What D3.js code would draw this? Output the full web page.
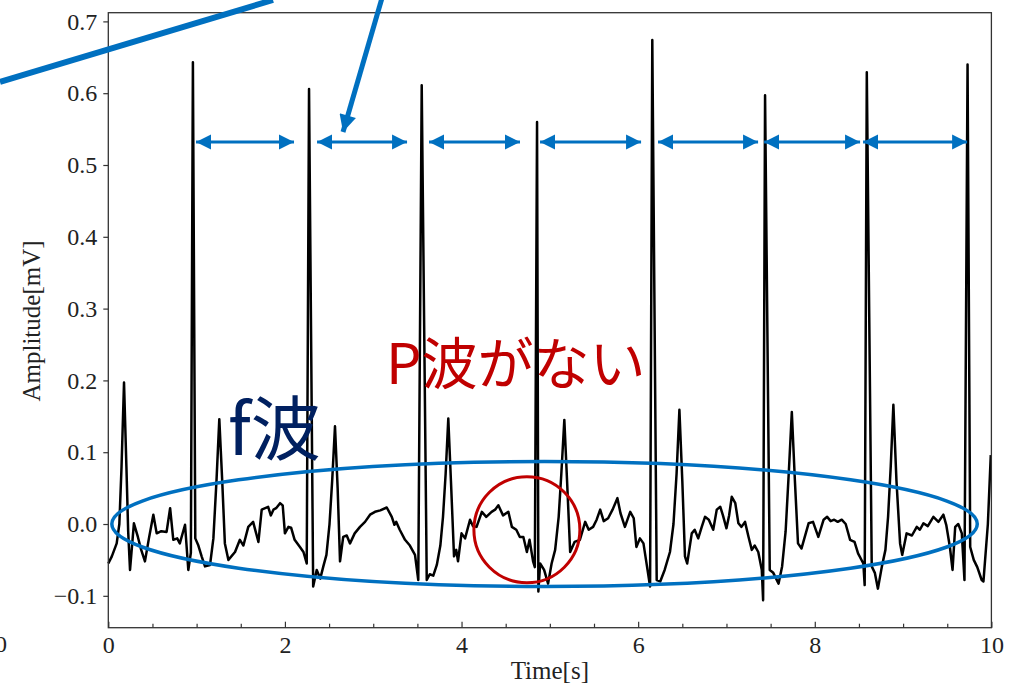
<!DOCTYPE html>
<html>
<head>
<meta charset="utf-8">
<script src="https://cdn.jsdelivr.net/npm/d3@7"></script>
<style>
  html, body { margin: 0; padding: 0; background: #fff; }
  svg { display: block; }
</style>
</head>
<body>
<svg id="chart" width="1020" height="683"></svg>
<script>
// ECG trace (time in s, amplitude in mV)
const ecgTime = [
  0.000, 0.040, 0.095, 0.125, 0.150, 0.178, 0.205, 0.225, 0.246, 0.290,
  0.335, 0.370, 0.415, 0.460, 0.510, 0.548, 0.600, 0.660, 0.700, 0.736,
  0.780, 0.810, 0.869, 0.906, 0.935, 0.958, 0.985, 1.020, 1.057, 1.095,
  1.152, 1.190, 1.225, 1.257, 1.290, 1.320, 1.360, 1.435, 1.490, 1.530,
  1.585, 1.640, 1.700, 1.737, 1.810, 1.840, 1.870, 1.900, 1.945, 1.975,
  2.000, 2.040, 2.070, 2.110, 2.170, 2.210, 2.247, 2.273, 2.320, 2.360,
  2.400, 2.435, 2.470, 2.505, 2.535, 2.567, 2.597, 2.624, 2.660, 2.700,
  2.737, 2.790, 2.850, 2.907, 2.964, 3.020, 3.080, 3.153, 3.210, 3.240,
  3.260, 3.300, 3.360, 3.415, 3.473, 3.510, 3.549, 3.606, 3.640, 3.680,
  3.720, 3.760, 3.790, 3.820, 3.850, 3.880, 3.915, 3.940, 3.960, 4.000,
  4.040, 4.096, 4.130, 4.170, 4.230, 4.280, 4.340, 4.380, 4.417, 4.470,
  4.530, 4.570, 4.620, 4.660, 4.700, 4.740, 4.770, 4.810, 4.830, 4.855,
  4.870, 4.890, 4.935, 4.980, 5.020, 5.060, 5.100, 5.130, 5.164, 5.195,
  5.230, 5.280, 5.340, 5.400, 5.440, 5.490, 5.530, 5.570, 5.610, 5.660,
  5.710, 5.765, 5.800, 5.850, 5.910, 5.950, 5.980, 6.020, 6.060, 6.100,
  6.135, 6.160, 6.210, 6.250, 6.300, 6.360, 6.400, 6.435, 6.467, 6.500,
  6.530, 6.555, 6.607, 6.640, 6.680, 6.720, 6.757, 6.800, 6.850, 6.890,
  6.930, 6.960, 7.000, 7.030, 7.060, 7.100, 7.135, 7.170, 7.210, 7.250,
  7.287, 7.320, 7.360, 7.400, 7.415, 7.437, 7.490, 7.530, 7.590, 7.630,
  7.670, 7.705, 7.740, 7.775, 7.810, 7.850, 7.930, 7.980, 8.040, 8.100,
  8.140, 8.180, 8.220, 8.260, 8.305, 8.350, 8.400, 8.450, 8.490, 8.550,
  8.565, 8.589, 8.645, 8.680, 8.715, 8.760, 8.800, 8.830, 8.860, 8.890,
  8.925, 8.966, 8.990, 9.040, 9.100, 9.155, 9.190, 9.230, 9.280, 9.343,
  9.400, 9.456, 9.490, 9.530, 9.560, 9.590, 9.625, 9.665, 9.695, 9.730,
  9.760, 9.800, 9.840, 9.890, 9.910, 9.960, 9.993
];
const ecgAmp = [
  -0.055, -0.045, -0.027, 0.000, 0.080, 0.197, 0.080, -0.010, -0.064, 0.001,
  -0.018, -0.035, -0.052, -0.020, 0.013, -0.013, -0.010, -0.011, 0.022, -0.022,
  -0.020, -0.027, -0.001, -0.064, -0.040, 0.643, -0.020, -0.030, -0.045, -0.059,
  -0.057, -0.020, 0.060, 0.146, 0.060, -0.027, -0.050, -0.039, -0.022, -0.030,
  -0.004, 0.003, -0.025, 0.020, 0.024, 0.012, 0.020, 0.022, 0.029, 0.026,
  -0.013, -0.004, -0.005, -0.022, -0.032, -0.039, -0.055, 0.606, -0.087, -0.064,
  -0.076, -0.059, -0.043, 0.000, 0.060, 0.136, 0.050, -0.052, -0.018, -0.016,
  -0.027, -0.013, -0.004, 0.003, 0.013, 0.017, 0.019, 0.023, 0.010, -0.001,
  0.003, -0.008, -0.022, -0.030, -0.043, -0.078, 0.611, -0.078, -0.070, -0.072,
  -0.057, -0.030, 0.010, 0.070, 0.147, 0.060, -0.045, -0.036, -0.052, -0.013,
  -0.020, 0.006, -0.003, -0.004, 0.017, 0.010, 0.017, 0.020, 0.026, 0.012,
  0.017, -0.004, -0.008, -0.018, -0.018, -0.039, -0.022, -0.052, -0.060, 0.560,
  -0.094, -0.055, -0.064, -0.083, -0.055, -0.036, 0.010, 0.070, 0.145, 0.060,
  -0.039, -0.025, -0.022, 0.003, -0.008, -0.004, 0.006, 0.020, 0.004, 0.008,
  0.020, 0.036, 0.015, -0.004, 0.017, 0.008, -0.032, -0.020, -0.027, -0.059,
  -0.087, 0.674, -0.078, -0.080, -0.064, -0.039, 0.000, 0.070, 0.159, 0.060,
  -0.045, -0.055, -0.013, -0.008, -0.020, -0.004, 0.010, 0.006, -0.008, 0.020,
  0.024, 0.012, -0.006, 0.012, 0.038, 0.029, 0.001, -0.004, 0.003, -0.018,
  -0.036, -0.030, -0.039, -0.064, -0.106, 0.597, -0.064, -0.068, -0.083, -0.059,
  -0.010, 0.070, 0.156, 0.060, -0.027, -0.034, 0.001, 0.003, -0.018, 0.006,
  0.010, 0.004, 0.006, 0.003, 0.006, 0.000, -0.022, -0.025, -0.041, -0.055,
  -0.085, 0.629, -0.059, -0.068, -0.090, -0.059, -0.036, 0.010, 0.080, 0.166,
  0.060, -0.027, -0.043, -0.013, -0.016, -0.004, -0.008, 0.001, -0.003, 0.010,
  0.003, 0.013, -0.002, -0.032, -0.064, -0.004, 0.000, -0.013, -0.078, 0.640,
  -0.032, -0.050, -0.060, -0.078, -0.080, 0.000, 0.096
];

// RR-interval arrows (start / end in s) and their height in mV
const rrStart = [0.993, 2.364, 3.632, 4.889, 6.225, 7.426, 8.547];
const rrEnd = [2.103, 3.383, 4.662, 6.033, 7.358, 8.513, 9.725];
const rrLevel = 0.532;

const xTicks = [0, 2, 4, 6, 8, 10];
const yTicks = [-0.1, 0.0, 0.1, 0.2, 0.3, 0.4, 0.5, 0.6, 0.7];

const BLUE = '#0070C0';
const RED = '#C00000';
const NAVY = '#002060';
const SERIF = '"Liberation Serif", "Times New Roman", serif';
const JP = '"Noto Sans CJK JP", sans-serif';

const plot = { left: 108.3, top: 12.7, right: 991.4, bottom: 627.7 };

const svg = d3.select('#chart');

const x = d3.scaleLinear().domain([0, 10]).range([plot.left, plot.right]);
const y = d3.scaleLinear().domain([-0.1444, 0.7121]).range([plot.bottom, plot.top]);

// arrow heads
const defs = svg.append('defs');
defs.append('marker')
  .attr('id', 'head')
  .attr('viewBox', '0 0 10 10')
  .attr('refX', 10).attr('refY', 5)
  .attr('markerUnits', 'userSpaceOnUse')
  .attr('markerWidth', 15).attr('markerHeight', 16)
  .attr('orient', 'auto-start-reverse')
  .append('path')
  .attr('d', 'M0,0 L10,5 L0,10 Z')
  .attr('fill', BLUE);
defs.append('marker')
  .attr('id', 'bighead')
  .attr('viewBox', '0 0 10 10')
  .attr('refX', 10).attr('refY', 5)
  .attr('markerUnits', 'userSpaceOnUse')
  .attr('markerWidth', 18).attr('markerHeight', 17)
  .attr('orient', 'auto')
  .append('path')
  .attr('d', 'M0,0 L10,5 L0,10 Z')
  .attr('fill', BLUE);

// axes
const xAxis = d3.axisBottom(x)
  .tickValues(xTicks)
  .tickFormat(d3.format('d'))
  .tickSizeInner(-6)
  .tickSizeOuter(0)
  .tickPadding(8);

const xMinor = d3.axisBottom(x)
  .tickValues(d3.range(0, 10.01, 0.5).filter(v => v % 2 !== 0))
  .tickFormat('')
  .tickSizeInner(-4)
  .tickSizeOuter(0);

const yAxis = d3.axisLeft(y)
  .tickValues(yTicks)
  .tickFormat(d3.format('.1f'))
  .tickSizeInner(5)
  .tickSizeOuter(0)
  .tickPadding(6);

function styleAxis(g) {
  g.select('.domain').remove();
  g.attr('font-family', SERIF).attr('font-size', 24);
  g.selectAll('.tick line').attr('stroke', '#333').attr('stroke-width', 1.2);
  g.selectAll('.tick text').attr('fill', '#222');
}

svg.append('g')
  .attr('transform', `translate(0,${plot.bottom})`)
  .call(xMinor)
  .call(styleAxis);

svg.append('g')
  .attr('transform', `translate(0,${plot.bottom})`)
  .call(xAxis)
  .call(styleAxis);

svg.append('g')
  .attr('transform', `translate(${plot.left},0)`)
  .call(yAxis)
  .call(styleAxis);

// ECG line
const ecg = ecgTime.map((t, i) => [t, ecgAmp[i]]);
svg.append('path')
  .datum(ecg)
  .attr('fill', 'none')
  .attr('stroke', '#000')
  .attr('stroke-width', 2.5)
  .attr('stroke-linejoin', 'round')
  .attr('d', d3.line().x(d => x(d[0])).y(d => y(d[1])));

// frame
svg.append('rect')
  .attr('x', plot.left).attr('y', plot.top)
  .attr('width', plot.right - plot.left)
  .attr('height', plot.bottom - plot.top)
  .attr('fill', 'none')
  .attr('stroke', '#333')
  .attr('stroke-width', 1.3);

// axis labels
svg.append('text')
  .attr('font-family', SERIF).attr('font-size', 25).attr('fill', '#222')
  .attr('text-anchor', 'middle')
  .attr('transform', 'translate(40,321) rotate(-90)')
  .text('Amplitude[mV]');

svg.append('text')
  .attr('font-family', SERIF).attr('font-size', 25).attr('fill', '#222')
  .attr('text-anchor', 'middle')
  .attr('x', x(5))
  .attr('y', 679)
  .text('Time[s]');

// leftover tick label of the neighbouring panel, half outside the picture
svg.append('text')
  .attr('font-family', SERIF).attr('font-size', 24).attr('fill', '#222')
  .attr('x', -5).attr('y', 652)
  .text('0');

// RR interval arrows
svg.append('g')
  .selectAll('line')
  .data(rrStart)
  .join('line')
  .attr('x1', d => x(d))
  .attr('x2', (d, i) => x(rrEnd[i]))
  .attr('y1', y(rrLevel))
  .attr('y2', y(rrLevel))
  .attr('stroke', BLUE)
  .attr('stroke-width', 3)
  .attr('marker-start', 'url(#head)')
  .attr('marker-end', 'url(#head)');

// big ellipse around f waves
svg.append('ellipse')
  .attr('cx', x(4.94))
  .attr('cy', y(0))
  .attr('rx', x(4.9) - x(0))
  .attr('ry', y(0) - y(0.087))
  .attr('fill', 'none')
  .attr('stroke', BLUE)
  .attr('stroke-width', 3.5);

// red circle where the P wave is missing
svg.append('circle')
  .attr('cx', x(4.74))
  .attr('cy', y(-0.008))
  .attr('r', x(0.6) - x(0))
  .attr('fill', 'none')
  .attr('stroke', RED)
  .attr('stroke-width', 3);

// callout lines coming in from outside the panel
svg.append('line')
  .attr('x1', 0).attr('y1', 82)
  .attr('x2', 273).attr('y2', 0)
  .attr('stroke', BLUE)
  .attr('stroke-width', 6);

svg.append('line')
  .attr('x1', 382).attr('y1', -2)
  .attr('x2', 343).attr('y2', 132)
  .attr('stroke', BLUE)
  .attr('stroke-width', 5)
  .attr('marker-end', 'url(#bighead)');

// notes
svg.append('text')
  .attr('font-family', JP)
  .attr('x', 386).attr('y', 384)
  .attr('fill', RED)
  .attr('font-size', 56)
  .text('P波がない');

svg.append('text')
  .attr('font-family', JP)
  .attr('x', 228).attr('y', 455)
  .attr('fill', NAVY)
  .attr('font-size', 70)
  .text('f波');
</script>
</body>
</html>
